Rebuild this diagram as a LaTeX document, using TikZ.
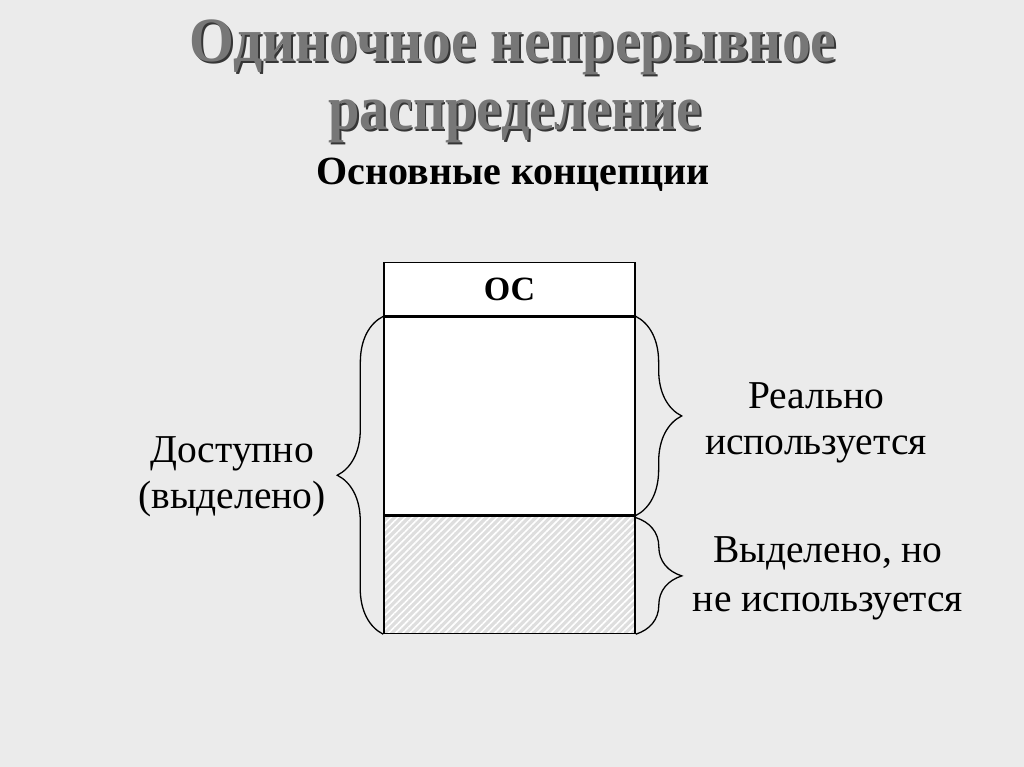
\documentclass[tikz,border=0pt]{standalone}
\usepackage{graphicx}
\usepackage{fontspec}
\setmainfont{Liberation Serif}
\usetikzlibrary{decorations.pathreplacing}
\usetikzlibrary{patterns.meta}
\usetikzlibrary{positioning}
\definecolor{slidebg}{HTML}{EBEBEB}
\definecolor{titlegray}{HTML}{777777}
\definecolor{titleshadow}{HTML}{363636}
\definecolor{hatchgray}{HTML}{DEDEDE}

\begin{document}
\begin{tikzpicture}[x=1pt,y=-1pt]
	\tikzset{
		memcell/.style={draw,line width=1.3pt,minimum width=251pt,inner sep=0,anchor=north},
		membrace/.style={decorate,decoration={brace,amplitude=46pt},line width=1.3pt},
		heading/.style={anchor=base,font=\fontsize{63}{68}\selectfont\bfseries,text=titlegray},
		caption/.style={align=center,font=\fontsize{39.5}{46}\selectfont}
	}
	
	\fill[slidebg] (0,0) rectangle (1024,767);
	
	% title with shadow
	\foreach \dx/\col in {1.8/titleshadow, 0/titlegray}{
		\node[heading,text=\col] (title1) at (513+\dx,62+\dx) {\scalebox{0.915}[1]{Одиночное непрерывное}};
		\node[heading,text=\col] (title2) at (515+\dx,130+\dx) {\scalebox{0.895}[1]{распределение}};
	}
	\node[anchor=base,font=\fontsize{40}{48}\selectfont\bfseries] (subtitle) at (513,185) {Основные концепции};
	
	% memory
	\node[memcell,fill=white,minimum height=53pt] (os) at (509.5,262) {\fontsize{34}{36}\selectfont\bfseries ОС};
	\node[memcell,fill=white,minimum height=198pt] (used) at (os.south) {};
	\node[memcell,preaction={fill=hatchgray},pattern={Lines[angle=45,distance=5pt,line width=1.6pt]},pattern color=white,minimum height=117pt] (unused) at (used.south) {};
	
	\draw[membrace] (unused.south west) -- (used.north west);
	\draw[membrace] (used.north east) -- (used.south east);
	\draw[membrace] ([yshift=-2pt]unused.north east) -- (unused.south east);
	
	\node[caption] (avail) at (232,477) {Доступно\\(выделено)};
	\node[caption] (real) at (816,423) {Реально\\используется};
	\node[caption,font=\fontsize{39.5}{49}\selectfont] (waste) at (828,578) {Выделено, но\\не используется};
\end{tikzpicture}
\end{document}
